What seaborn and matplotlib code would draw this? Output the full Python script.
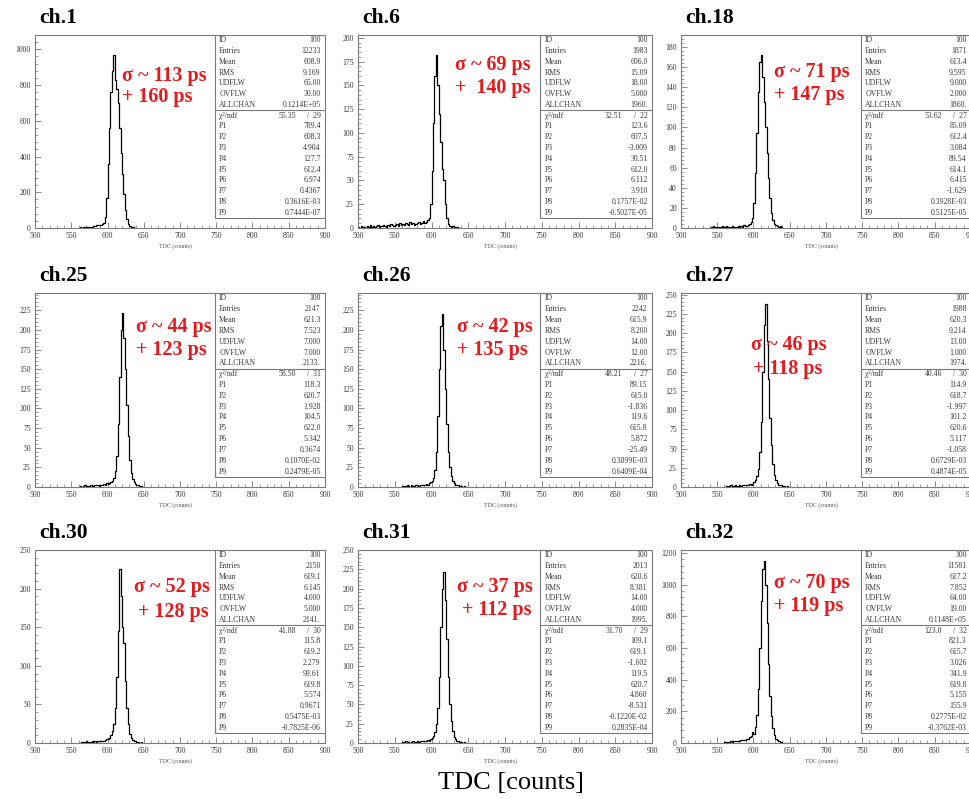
import numpy as np
import pandas as pd
import matplotlib
matplotlib.use("Agg")
import matplotlib.pyplot as plt
import seaborn as sns
from matplotlib.ticker import MultipleLocator, AutoMinorLocator
from matplotlib.patches import Rectangle

# ---------------- data ----------------
BIN = 2
channels = ["ch.1", "ch.6", "ch.18", "ch.25", "ch.26", "ch.27", "ch.30", "ch.31", "ch.32"]

ch1_start = 560
ch1_counts = [2, 3, 2, 4, 3, 5, 4, 6, 7, 8,
              10, 12, 15, 14, 18, 16, 22, 30, 60, 170,
              360, 560, 760, 880, 970, 830, 780, 700, 560, 420,
              300, 190, 100, 50, 22, 10, 5, 3, 2, 1]
ch6_start = 500
ch6_counts = [1, 0, 2, 1, 1, 0, 2, 1, 3, 1, 2, 1, 2, 3, 1, 2, 2, 3, 2, 1,
              3, 2, 4, 3, 2, 3, 4, 2, 5, 3, 4, 3, 5, 4, 3, 6, 4, 5, 3, 4,
              5, 6, 4, 5, 7, 5, 6, 8, 10, 25,
              60, 110, 160, 182, 150, 120, 90, 62, 50, 25,
              10, 4, 2, 1, 2, 1, 0, 1, 0, 0]
ch18_start = 540
ch18_counts = [0, 1, 2, 1, 0, 1, 0, 1, 2, 0, 1, 2, 1, 0, 1, 2, 1, 0, 1, 2,
               1, 2, 1, 3, 2, 2, 3, 4, 6, 10,
               25, 55, 95, 135, 165, 172, 150, 125, 100, 75,
               50, 30, 15, 8, 4, 3, 2, 1, 2, 1]
ch25_start = 560
ch25_counts = [0, 1, 0, 1, 2, 1, 1, 0, 2, 1, 1, 2, 3, 2, 1, 3, 2, 4, 3, 5,
               4, 5, 6, 8, 12, 20, 40, 80, 140, 200,
               222, 190, 150, 105, 65, 35, 18, 10, 6, 4,
               3, 2, 1, 1, 0]
ch26_start = 560
ch26_counts = [1, 0, 1, 2, 1, 0, 2, 1, 1, 2, 3, 1, 2, 2, 3, 2, 4, 3, 5, 6,
               8, 12, 22, 45, 90, 150, 205, 220, 175, 125,
               80, 45, 25, 14, 8, 5, 3, 2, 2, 1,
               1, 0, 1, 0]
ch27_start = 560
ch27_counts = [0, 1, 1, 0, 2, 1, 1, 2, 1, 0, 2, 1, 3, 2, 2, 3, 2, 4, 3, 4,
               6, 9, 14, 24, 45, 85, 150, 210, 238, 190,
               140, 90, 55, 30, 16, 9, 5, 3, 2, 2,
               1, 1, 0, 1]
ch30_start = 560
ch30_counts = [0, 0, 1, 0, 1, 2, 1, 0, 1, 2, 1, 2, 1, 2, 3, 2, 3, 2, 4, 5,
               5, 7, 10, 15, 25, 45, 85, 145, 225, 190,
               150, 130, 80, 45, 24, 12, 7, 4, 3, 2,
               1, 1, 0, 1]
ch31_start = 560
ch31_counts = [1, 0, 2, 1, 1, 0, 1, 2, 1, 1, 2, 1, 2, 3, 2, 2, 3, 4, 3, 5,
               6, 9, 14, 24, 45, 85, 150, 200, 222, 185,
               135, 85, 50, 28, 15, 8, 5, 3, 2, 1,
               1, 0, 1, 0]
ch32_start = 560
ch32_counts = [5, 6, 8, 7, 10, 9, 12, 11, 14, 13, 15, 18, 16, 20, 22, 25, 28, 35, 45, 70,
               60, 100, 180, 340, 600, 900, 1100, 1150, 1000, 760,
               500, 300, 170, 95, 50, 28, 16, 10, 6, 4,
               3, 2, 1, 1, 1]

starts = [ch1_start, ch6_start, ch18_start, ch25_start, ch26_start, ch27_start, ch30_start, ch31_start, ch32_start]
counts = [ch1_counts, ch6_counts, ch18_counts, ch25_counts, ch26_counts, ch27_counts, ch30_counts, ch31_counts, ch32_counts]

y_max = [1080, 203, 192, 247, 247, 252, 250, 250, 1220]
y_step = [200, 25, 20, 25, 25, 25, 50, 25, 200]
x_ticks = [500, 550, 600, 650, 700, 750, 800, 850, 900]

stat_names = ["ID", "Entries", "Mean", "RMS", "UDFLW", "OVFLW", "ALLCHAN"]
param_names = ["P1", "P2", "P3", "P4", "P5", "P6", "P7", "P8", "P9"]

ch1_stats = ["100", "12233", "608.9", "9.169", "65.00", "30.00", "0.1214E+05"]
ch6_stats = ["100", "1983", "606.0", "15.09", "18.00", "5.000", "1960."]
ch18_stats = ["100", "1871", "613.4", "9.595", "9.000", "2.000", "1860."]
ch25_stats = ["100", "2147", "621.3", "7.523", "7.000", "7.000", "2133."]
ch26_stats = ["100", "2242", "615.9", "8.200", "14.00", "12.00", "2216."]
ch27_stats = ["100", "1988", "620.3", "9.214", "13.00", "1.000", "1974."]
ch30_stats = ["100", "2150", "619.1", "6.145", "4.000", "5.000", "2141."]
ch31_stats = ["100", "2013", "620.6", "8.381", "14.00", "4.000", "1995."]
ch32_stats = ["100", "11581", "617.2", "7.852", "64.00", "19.00", "0.1148E+05"]

chi2 = [("55.35", "29"), ("32.51", "22"), ("53.62", "27"), ("58.50", "31"), ("48.21", "27"),
        ("40.46", "30"), ("41.88", "30"), ("31.70", "29"), ("123.0", "32")]

ch1_params = ["789.4", "608.3", "4.904", "127.7", "612.4", "6.974", "0.4367", "0.3616E-03", "0.7444E-07"]
ch6_params = ["123.6", "607.5", "-3.009", "30.51", "612.0", "6.112", "3.910", "0.1757E-02", "-0.5027E-05"]
ch18_params = ["85.09", "612.4", "3.084", "89.54", "614.1", "6.415", "-1.629", "0.3928E-03", "0.5125E-05"]
ch25_params = ["118.3", "620.7", "1.928", "104.5", "622.0", "5.342", "0.3674", "0.1070E-02", "0.2479E-05"]
ch26_params = ["89.15", "615.0", "-1.836", "119.6", "615.8", "5.872", "-25.49", "0.3899E-03", "0.6409E-04"]
ch27_params = ["114.9", "618.7", "-1.997", "101.2", "620.6", "5.117", "-1.058", "0.6729E-03", "0.4874E-05"]
ch30_params = ["115.8", "619.2", "2.279", "99.61", "619.8", "5.574", "0.9671", "0.5475E-03", "-0.7825E-06"]
ch31_params = ["109.1", "619.1", "-1.602", "119.5", "620.7", "4.860", "-8.531", "-0.1220E-02", "0.2835E-04"]
ch32_params = ["821.3", "615.7", "3.026", "341.9", "619.8", "5.155", "155.9", "0.2775E-02", "-0.3762E-03"]

stats = [ch1_stats, ch6_stats, ch18_stats, ch25_stats, ch26_stats, ch27_stats, ch30_stats, ch31_stats, ch32_stats]
params = [ch1_params, ch6_params, ch18_params, ch25_params, ch26_params, ch27_params, ch30_params, ch31_params, ch32_params]

sigma_text = ["σ ~ 113 ps", "σ ~ 69 ps", "σ ~ 71 ps", "σ ~ 44 ps", "σ ~ 42 ps", "σ ~ 46 ps",
              "σ ~ 52 ps", "σ ~ 37 ps", "σ ~ 70 ps"]
extra_text = ["+ 160 ps", "+  140 ps", "+ 147 ps", "+ 123 ps", "+ 135 ps", "+ 118 ps",
              "+ 128 ps", "+ 112 ps", "+ 119 ps"]

# ---------------- layout ----------------
W, H = 970, 799
sns.set_theme(style="white")
plt.rcParams["font.family"] = ["Liberation Serif", "DejaVu Serif"]

fig = plt.figure(figsize=(W / 100, H / 100), dpi=100)
fig.patch.set_facecolor("white")

col_x = [(35, 325), (358, 652), (681, 971)]
row_y = [(35, 228), (293, 487), (550, 743)]

red_pos = [(0.30, 0.79, 0.30, 0.68), (0.33, 0.845, 0.33, 0.725), (0.32, 0.81, 0.32, 0.69),
           (0.35, 0.825, 0.35, 0.706), (0.337, 0.825, 0.337, 0.706), (0.243, 0.73, 0.25, 0.61),
           (0.34, 0.81, 0.355, 0.68), (0.337, 0.81, 0.355, 0.69), (0.32, 0.83, 0.32, 0.71)]

GRAY = "#7a7a7a"
TXT = "#3a3a3a"
RED = "#e41a1c"
FS = 5.6

for i, ch in enumerate(channels):
    r, c = divmod(i, 3)
    x0, x1 = col_x[c]
    y0, y1 = row_y[r]
    ax = fig.add_axes([x0 / W, 1 - y1 / H, (x1 - x0) / W, (y1 - y0) / H])
    ax.set_facecolor("white")

    cnt = [float(v) for v in counts[i]]
    n = len(cnt)
    edges = [starts[i] + BIN * k for k in range(n + 1)]
    df = pd.DataFrame({"tdc": [edges[0]] + edges, "n": [0.0] + cnt + [0.0]})
    sns.lineplot(data=df, x="tdc", y="n", sort=False, estimator=None,
                 drawstyle="steps-post", color="black", linewidth=0.9, ax=ax)

    ax.set_xlim(500, 900)
    ax.set_ylim(0, y_max[i])
    ax.set_xlabel("")
    ax.set_ylabel("")
    ax.set_xticks(x_ticks)
    ax.xaxis.set_minor_locator(MultipleLocator(10))
    ax.yaxis.set_major_locator(MultipleLocator(y_step[i]))
    ax.yaxis.set_minor_locator(AutoMinorLocator(5))
    ax.tick_params(which="both", direction="in", colors=GRAY, labelcolor=TXT,
                   labelsize=5.6, bottom=True, left=True, top=False, right=False, pad=3)
    ax.tick_params(which="major", length=4, width=0.6)
    ax.tick_params(which="minor", length=2, width=0.5)
    for sp in ax.spines.values():
        sp.set_color(GRAY)
        sp.set_linewidth(0.8)

    # stat box
    bx, by = 0.62, 0.052
    bh = 1 - by
    ax.add_patch(Rectangle((bx, by), 1 - bx, bh, transform=ax.transAxes,
                           facecolor="white", edgecolor=GRAY, linewidth=0.8, zorder=3))
    rh = bh / 17.0
    ax.plot([bx, 1], [1 - 7 * rh, 1 - 7 * rh], transform=ax.transAxes, color=GRAY,
            linewidth=0.8, zorder=4)
    vx = 0.985
    for k, (lab, val) in enumerate(zip(stat_names, stats[i])):
        yy = 1 - (k + 0.5) * rh
        ax.text(bx + 0.015, yy, lab, transform=ax.transAxes, fontsize=FS, color=TXT,
                va="center", ha="left", zorder=5)
        ax.text(vx, yy, val, transform=ax.transAxes, fontsize=FS, color=TXT,
                va="center", ha="right", zorder=5)
    yy = 1 - 7.5 * rh
    ax.text(bx + 0.015, yy, "χ²/ndf", transform=ax.transAxes, fontsize=FS, color=TXT,
            va="center", ha="left", zorder=5)
    ax.text(0.90, yy, chi2[i][0], transform=ax.transAxes, fontsize=FS, color=TXT,
            va="center", ha="right", zorder=5)
    ax.text(vx, yy, "/  " + chi2[i][1], transform=ax.transAxes, fontsize=FS, color=TXT,
            va="center", ha="right", zorder=5)
    for k, (lab, val) in enumerate(zip(param_names, params[i])):
        yy = 1 - (k + 8.5) * rh
        ax.text(bx + 0.015, yy, lab, transform=ax.transAxes, fontsize=FS, color=TXT,
                va="center", ha="left", zorder=5)
        ax.text(vx, yy, val, transform=ax.transAxes, fontsize=FS, color=TXT,
                va="center", ha="right", zorder=5)

    p = red_pos[i]
    ax.text(p[0], p[1], sigma_text[i], transform=ax.transAxes, fontsize=14.5,
            fontweight="bold", color=RED, va="center", ha="left", zorder=6)
    ax.text(p[2], p[3], extra_text[i], transform=ax.transAxes, fontsize=14.5,
            fontweight="bold", color=RED, va="center", ha="left", zorder=6)

    fig.text((x0 + 4) / W, 1 - (y0 - 17) / H, ch, fontsize=15.5, fontweight="bold",
             color="black", ha="left", va="center")
    fig.text(((x0 + x1) / 2 - 5) / W, 1 - (y1 + 18) / H, "TDC (counts)", fontsize=4.3,
             color="#555555", ha="center", va="center")

fig.text(511 / W, 1 - 783 / H, "TDC [counts]", fontsize=19, color="black",
         ha="center", va="center")

fig.savefig("out.png", dpi=100, facecolor="white")
